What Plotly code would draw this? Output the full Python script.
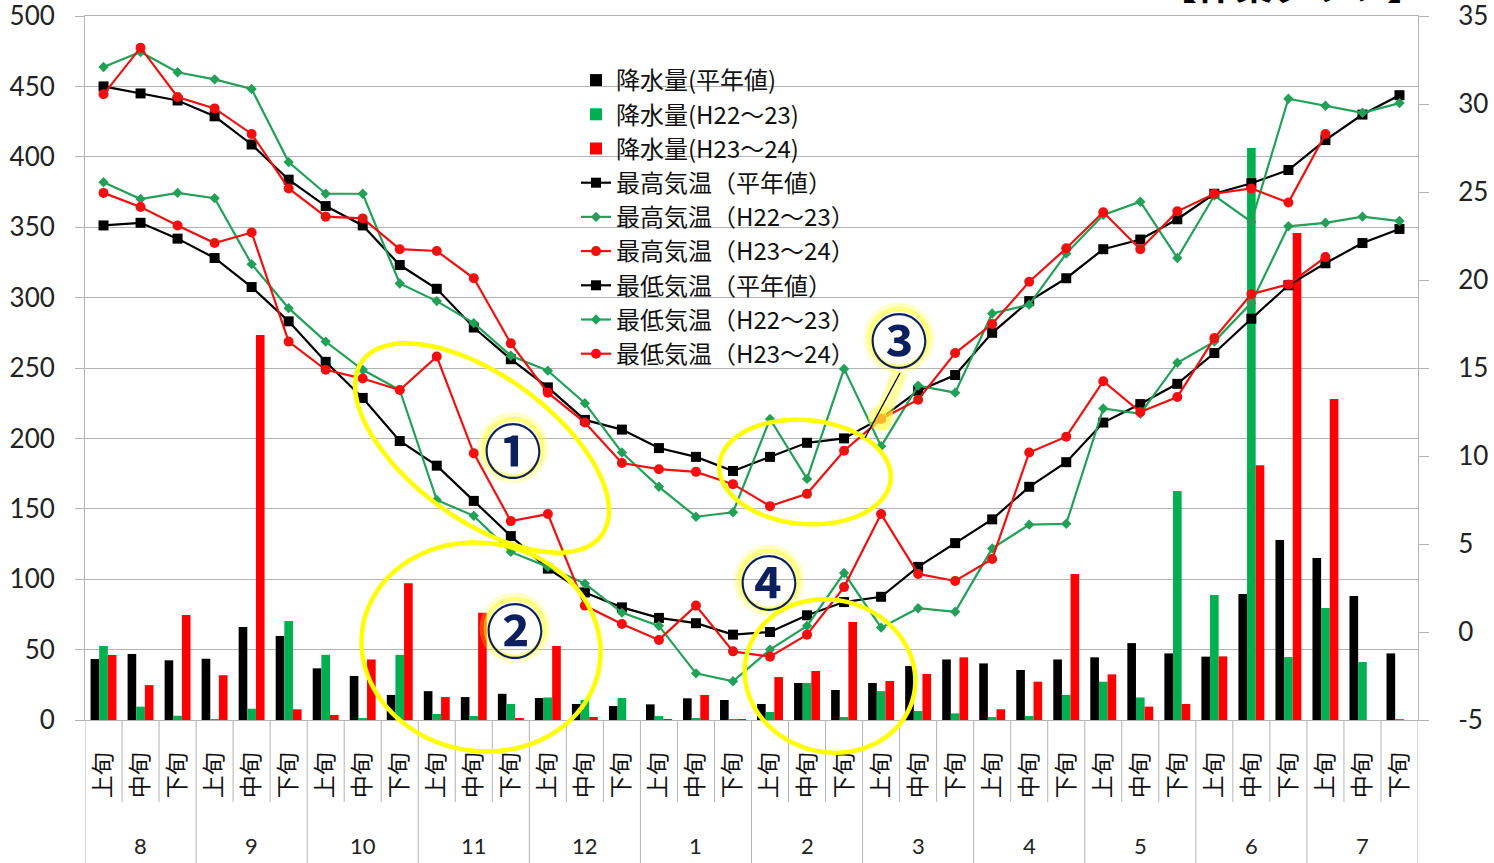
import numpy as np
import plotly.graph_objects as go

# ---- categories ----
months = ["8", "9", "10", "11", "12", "1", "2", "3", "4", "5", "6", "7"]
decades = ["上旬", "中旬", "下旬"]
tick_labels = [d for m in months for d in decades]

# ---- precipitation per 10-day period (mm, left axis) ----
prec_normal = [43.3, 46.9, 42.4, 43.5, 66.1, 59.7, 36.7, 31.3, 17.8, 20.5, 16.3, 18.6,
               15.6, 11.4, 9.9, 11.1, 15.4, 14.2, 11.4, 26.3, 21.3, 26.3, 38.3, 43.0,
               40.2, 35.5, 43.0, 44.5, 54.6, 47.3, 45.0, 89.5, 127.8, 115.0, 88.0, 47.3]
prec_h22 = [52.6, 9.5, 3.0, 0.7, 8.0, 70.4, 46.3, 0.8, 46.3, 4.3, 2.8, 11.4,
            16.0, 14.2, 15.6, 2.8, 0.8, 0.3, 5.7, 26.3, 2.1, 20.5, 6.4, 4.7,
            2.1, 2.8, 17.8, 27.2, 16.0, 162.7, 88.7, 406.3, 44.7, 79.5, 41.2, 0.5]
prec_h23 = [46.2, 24.8, 74.6, 31.8, 273.4, 7.6, 3.6, 43.0, 97.1, 16.3, 76.2, 0.9,
            52.6, 2.1, 0.0, 0.3, 17.8, 0.2, 30.5, 34.8, 69.6, 27.7, 32.7, 44.5,
            7.6, 27.2, 103.7, 32.4, 9.5, 11.4, 45.2, 181.0, 345.9, 228.0, None, None]

# ---- temperatures (deg C, right axis) ----
tmax_normal = [31.0, 30.6, 30.2, 29.3, 27.7, 25.7, 24.2, 23.1, 20.85, 19.5, 17.3, 15.5,
               13.9, 12.05, 11.5, 10.45, 9.95, 9.15, 9.95, 10.75, 11.0, 12.15, 13.7, 14.6,
               17.0, 18.8, 20.1, 21.75, 22.3, 23.45, 24.9, 25.5, 26.25, 27.95, 29.4, 30.5]
tmax_h22 = [32.1, 32.95, 31.8, 31.4, 30.85, 26.7, 24.9, 24.9, 19.8, 18.8, 17.55, 15.7,
            14.85, 13.0, 10.2, 8.25, 6.55, 6.8, 12.1, 8.7, 14.95, 10.55, 14.0, 13.6,
            18.1, 18.6, 21.5, 23.7, 24.45, 21.25, 24.8, 23.3, 30.3, 29.9, 29.5, 30.05]
tmax_h23 = [30.55, 33.2, 30.4, 29.75, 28.3, 25.2, 23.6, 23.5, 21.75, 21.65, 20.1, 16.4,
            13.6, 11.9, 9.6, 9.25, 9.1, 8.4, 7.15, 7.85, 10.3, 12.1, 13.2, 15.85,
            17.5, 19.9, 21.8, 23.85, 21.75, 23.9, 24.9, 25.2, 24.4, 28.3, None, None]
tmin_normal = [23.1, 23.25, 22.35, 21.25, 19.6, 17.65, 15.35, 13.3, 10.85, 9.45, 7.45, 5.45,
               3.6, 2.25, 1.4, 0.8, 0.5, -0.15, 0.0, 0.95, 1.7, 2.0, 3.7, 5.05,
               6.4, 8.25, 9.65, 11.9, 12.95, 14.1, 15.85, 17.8, 19.7, 20.95, 22.1, 22.9]
tmin_h22 = [25.55, 24.6, 24.95, 24.65, 20.9, 18.4, 16.5, 14.9, 13.75, 7.5, 6.6, 4.55,
            3.7, 2.75, 1.1, 0.35, -2.35, -2.8, -1.0, 0.35, 3.35, 0.25, 1.35, 1.15,
            4.75, 6.1, 6.15, 12.7, 12.4, 15.3, 16.5, 18.7, 23.05, 23.25, 23.6, 23.35]
tmin_h23 = [24.95, 24.15, 23.1, 22.1, 22.7, 16.5, 14.9, 14.4, 13.75, 15.65, 10.15, 6.3,
            6.7, 1.5, 0.45, -0.45, 1.5, -1.1, -1.4, -0.15, 2.55, 6.7, 3.3, 2.9,
            4.15, 10.2, 11.1, 14.25, 12.5, 13.35, 16.7, 19.2, 19.75, 21.3, None, None]

# right-axis ticks (plain hyphen for negatives)
temp_ticks = [-5, 0, 5, 10, 15, 20, 25, 30, 35]
temp_tick_text = [str(v) for v in temp_ticks]

x = list(range(len(tick_labels)))

BLACK = "#000000"
GREEN_BAR = "#00b050"
RED_BAR = "#ff0000"
GREEN_LINE = "#22a058"
RED_LINE = "#f01010"
GRID = "#b3b3b3"
JP = "Noto Sans CJK JP"
NUM = "Lato"

fig = go.Figure()

bars = [("降水量(平年値)", prec_normal, BLACK),
        ("降水量(H22～23)", prec_h22, GREEN_BAR),
        ("降水量(H23～24)", prec_h23, RED_BAR)]
for name, vals, col in bars:
    fig.add_trace(go.Bar(x=x, y=vals, name=name, marker=dict(color=col, line_width=0),
                         legendgroup=name))

# highlighted point on the normal max-temperature line (start of March)
tmax_normal_colors = [BLACK] * len(x)
tmax_normal_colors[21] = "#f4a21c"

lines = [("最高気温（平年値）", tmax_normal, BLACK, "square", 10, tmax_normal_colors),
         ("最高気温（H22～23）", tmax_h22, GREEN_LINE, "diamond", 8, GREEN_LINE),
         ("最高気温（H23～24）", tmax_h23, RED_LINE, "circle", 10, RED_LINE),
         ("最低気温（平年値）", tmin_normal, BLACK, "square", 10, BLACK),
         ("最低気温（H22～23）", tmin_h22, GREEN_LINE, "diamond", 8, GREEN_LINE),
         ("最低気温（H23～24）", tmin_h23, RED_LINE, "circle", 10, RED_LINE)]
for name, vals, col, sym, size, mcol in lines:
    fig.add_trace(go.Scatter(x=x, y=vals, name=name, yaxis="y2", mode="lines+markers",
                             line=dict(color=col, width=2.2),
                             marker=dict(symbol=sym, size=size, color=mcol, line_width=0),
                             legendgroup=name))

# ---- helpers for decorations placed in paper space ----
L, R, T, B = 85, 1418, 16, 720
def pxx(v):
    return (v - L) / (R - L)
def pxy(v):
    return (B - v) / (B - T)

shapes = []

# category separators under the axis, longer ones between months
for k in range(len(x) + 1):
    month_edge = (k % 3 == 0)
    shapes.append(dict(type="line", xref="x", yref="paper", x0=k - 0.5, x1=k - 0.5,
                       y0=0, y1=pxy(863) if month_edge else pxy(802),
                       line=dict(color=GRID, width=1)))

def ellipse_path(cx, cy, a, b, ang_deg, n=90):
    t = np.linspace(0, 2 * np.pi, n, endpoint=False)
    th = np.deg2rad(ang_deg)
    ex = cx + a * np.cos(t) * np.cos(th) - b * np.sin(t) * np.sin(th)
    ey = cy + a * np.cos(t) * np.sin(th) + b * np.sin(t) * np.cos(th)
    pts = [f"{pxx(u):.5f},{pxy(v):.5f}" for u, v in zip(ex, ey)]
    return "M" + " L".join(pts) + " Z"

# yellow ellipses marking the periods of interest
for cx, cy, a, b, ang in [(482, 448, 148, 72, 36),
                          (481, 647, 120, 104, 10),
                          (805, 472, 86, 52, 5),
                          (830, 676, 86, 76, 15)]:
    shapes.append(dict(type="path", xref="paper", yref="paper",
                       path=ellipse_path(cx, cy, a, b, ang),
                       line=dict(color="#ffff00", width=4.5)))

# soft halo around the circled numbers
for cx, cy in [(513, 448), (515, 628), (899, 338), (769, 580)]:
    for r, w, op in [(31, 9, 0.25), (29, 5, 0.45)]:
        shapes.append(dict(type="circle", xref="paper", yref="paper",
                           x0=pxx(cx - r), x1=pxx(cx + r), y0=pxy(cy + r), y1=pxy(cy - r),
                           line=dict(color=f"rgba(255,255,40,{op})", width=w)))

# glow and leader line for note 3
shapes.append(dict(type="line", xref="paper", yref="paper",
                   x0=pxx(878), y0=pxy(428), x1=pxx(900), y1=pxy(372),
                   line=dict(color="rgba(255,255,60,0.45)", width=16)))
shapes.append(dict(type="circle", xref="paper", yref="paper",
                   x0=pxx(868), x1=pxx(894), y0=pxy(431), y1=pxy(405),
                   fillcolor="rgba(255,255,60,0.45)", line_width=0))
shapes.append(dict(type="line", xref="paper", yref="paper",
                   x0=pxx(865), y0=pxy(438), x1=pxx(900), y1=pxy(373),
                   line=dict(color="#000000", width=1.3)))

annotations = []
for i, m in enumerate(months):
    annotations.append(dict(x=3 * i + 1, y=pxy(845), xref="x", yref="paper", text=m,
                            showarrow=False, xanchor="center", yanchor="middle",
                            font=dict(family=NUM, size=22, color="#222222")))

for txt, cx, cy in [("①", 513, 448), ("②", 515, 628), ("③", 899, 338), ("④", 769, 580)]:
    annotations.append(dict(x=pxx(cx), y=pxy(cy), xref="paper", yref="paper",
                            text=f"<b>{txt}</b>", showarrow=False, xanchor="center",
                            yanchor="middle",
                            font=dict(family=JP, size=58, color="#0c1f5e")))

annotations.append(dict(x=pxx(1292), y=pxy(12), xref="paper", yref="paper",
                        text="<b>【作業グラフ】</b>", showarrow=False, xanchor="center",
                        yanchor="bottom", font=dict(family=JP, size=38, color="#000000")))

fig.update_layout(
    width=1494, height=863,
    margin=dict(l=L, r=1494 - R, t=T, b=863 - B, pad=0, autoexpand=False),
    paper_bgcolor="white", plot_bgcolor="white",
    barmode="group", bargap=0.3, bargroupgap=0,
    showlegend=True,
    legend=dict(x=pxx(576), y=pxy(58), xanchor="left", yanchor="top",
                bgcolor="rgba(0,0,0,0)", font=dict(family=JP, size=24, color="#111111"),
                tracegroupgap=0, itemwidth=30),
    xaxis=dict(range=[-0.5, len(x) - 0.5], tickmode="array", tickvals=x,
               ticktext=tick_labels, tickangle=-90, ticks="", showgrid=False,
               showline=True, mirror=True, linecolor=GRID, linewidth=1, zeroline=False,
               ticklabelstandoff=22, automargin=False,
               tickfont=dict(family=JP, size=23, color="#111111")),
    yaxis=dict(range=[0, 500], dtick=50, showgrid=True, gridcolor=GRID, gridwidth=1,
               showline=True, linecolor=GRID, linewidth=1, ticks="outside", ticklen=9,
               tickcolor=GRID, zeroline=False, ticklabelstandoff=15, automargin=False,
               ticklabeloverflow="allow",
               tickfont=dict(family=NUM, size=26, color="#222222")),
    yaxis2=dict(range=[-5, 35], tickmode="array", tickvals=temp_ticks,
                ticktext=temp_tick_text, overlaying="y", side="right", showgrid=False,
                showline=True, linecolor=GRID, linewidth=1, ticks="outside", ticklen=10,
                tickcolor=GRID, zeroline=False, ticklabelstandoff=24, automargin=False,
                ticklabeloverflow="allow",
                tickfont=dict(family=NUM, size=26, color="#222222")),
    shapes=shapes,
    annotations=annotations,
)

fig.write_html("out.html")
